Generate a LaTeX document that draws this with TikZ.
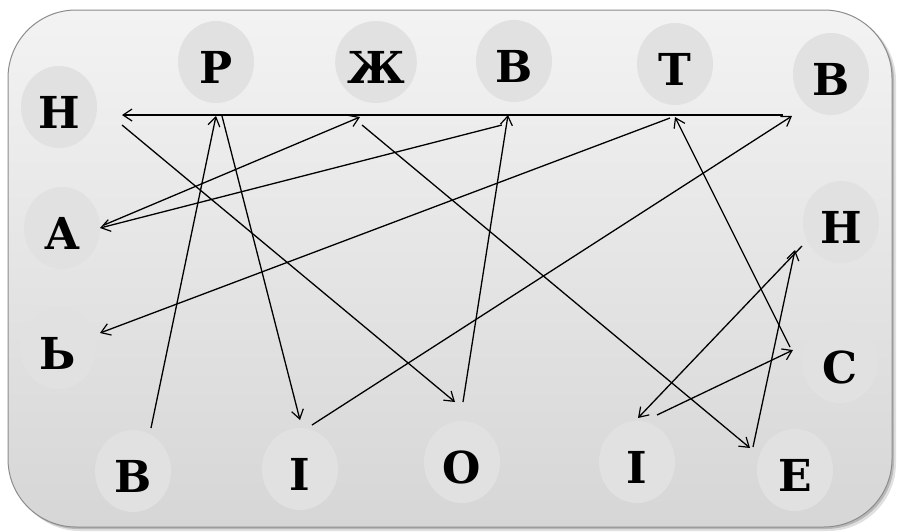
\documentclass[tikz,border=0pt]{standalone}
\usepackage{fontspec}
\setmainfont{DejaVu Serif}
\usetikzlibrary{arrows.meta,shapes.geometric}
\definecolor{bgtop}{HTML}{F3F3F3}
\definecolor{bgbot}{HTML}{D6D6D6}
\definecolor{bubblegray}{HTML}{E1E1E1}
\definecolor{framegray}{HTML}{8C8C8C}
\begin{document}
\begin{tikzpicture}[x=1pt,y=-1pt,
  bubble/.style={ellipse, fill=bubblegray, minimum width=76pt, minimum height=82pt,
    inner sep=0pt, font=\fontsize{44}{44}\selectfont\bfseries,
    text height=42pt, text depth=0pt},
  link/.style={line width=1.3pt,
    -{Straight Barb[length=9pt,width=12pt,line width=1.2pt]}}]
\useasboundingbox (0,0) rectangle (897,531);
% shadow and panel
\fill[black, opacity=0.12, rounded corners=68pt] (12,13) rectangle (896,531);
\fill[black, opacity=0.18, rounded corners=68pt] (10,12) rectangle (894,529);
\shade[top color=bgtop, bottom color=bgbot, draw=framegray, line width=1pt,
  rounded corners=68pt] (8,10) rectangle (892,527);
% letters
\node[bubble] (nl)  at (59,107)  {Н};
\node[bubble] (r)   at (216,62)  {Р};
\node[bubble] (zh)  at (376,62)  {Ж};
\node[bubble] (vt)  at (514,61)  {В};
\node[bubble] (t)   at (675,64)  {Т};
\node[bubble] (vtr) at (831,74)  {В};
\node[bubble] (nr)  at (841,222) {Н};
\node[bubble] (a)   at (62,228)  {А};
\node[bubble] (sz)  at (58,348)  {Ь};
\node[bubble] (vb)  at (133,471) {В};
\node[bubble] (ia)  at (300,469) {І};
\node[bubble] (o)   at (462,462) {О};
\node[bubble] (ib)  at (637,462) {І};
\node[bubble] (e)   at (795,470) {Е};
\node[bubble] (s)   at (840,362) {С};
% connector ends
\coordinate (vb-o) at (151,428);
\coordinate (r-i)  at (216,116);
\coordinate (r-o)  at (222,116);
\coordinate (ia-i) at (300,420);
\coordinate (ia-o) at (312,425);
\coordinate (vtr-i) at (792,116);
\coordinate (vtr-o) at (783,115);
\coordinate (nl-i) at (122,115);
\coordinate (nl-o) at (122,125);
\coordinate (o-i)  at (455,402);
\coordinate (o-o)  at (463,402);
\coordinate (vt-i) at (508,115);
\coordinate (vt-o) at (502,125);
\coordinate (a-i)  at (100,228);
\coordinate (a-o)  at (104,225);
\coordinate (zh-i) at (360,117);
\coordinate (zh-o) at (362,125);
\coordinate (e-i)  at (750,448);
\coordinate (e-o)  at (753,447);
\coordinate (nr-i) at (795,250);
\coordinate (nr-o) at (802,246);
\coordinate (ib-i) at (638,418);
\coordinate (ib-o) at (657,415);
\coordinate (s-i)  at (793,350);
\coordinate (s-o)  at (790,347);
\coordinate (t-i)  at (675,117);
\coordinate (t-o)  at (670,118);
\coordinate (sz-i) at (100,333);
% chain
\draw[link] (vb-o) -- (r-i);
\draw[link] (r-o) -- (ia-i);
\draw[link] (ia-o) -- (vtr-i);
\draw[link] (vtr-o) -- (nl-i);
\draw[link] (nl-o) -- (o-i);
\draw[link] (o-o) -- (vt-i);
\draw[link] (vt-o) -- (a-i);
\draw[link] (a-o) -- (zh-i);
\draw[link] (zh-o) -- (e-i);
\draw[link] (e-o) -- (nr-i);
\draw[link] (nr-o) -- (ib-i);
\draw[link] (ib-o) -- (s-i);
\draw[link] (s-o) -- (t-i);
\draw[link] (t-o) -- (sz-i);
\end{tikzpicture}
\end{document}
